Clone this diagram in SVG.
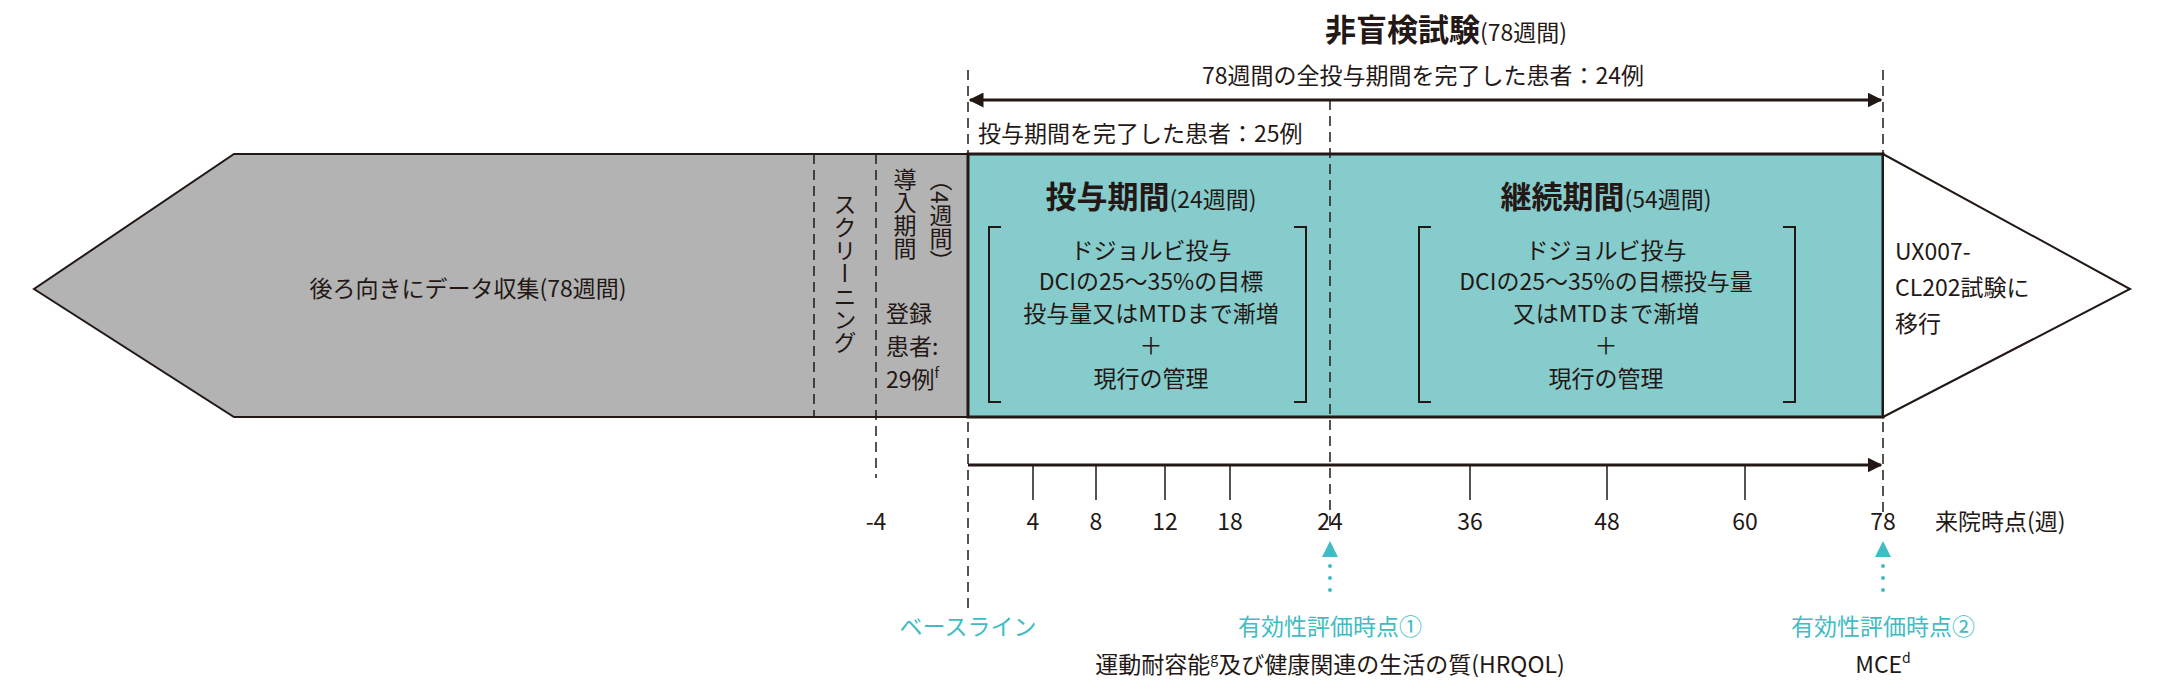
<svg xmlns="http://www.w3.org/2000/svg" width="2160" height="700" viewBox="0 0 2160 700">
<style>
text{font-family:"Noto Sans CJK JP","Noto Sans",sans-serif;fill:#231815}
.m{font-size:23px}
.c{text-anchor:middle}
.b{font-weight:bold;font-size:31px}
.cy{fill:#3fbcc4;font-size:23px}
.d{stroke:#231815;stroke-width:1.5;stroke-dasharray:10 6;fill:none}
.k{stroke:#231815;stroke-width:1.5;fill:none}
.br{stroke:#231815;stroke-width:2;fill:none}
</style>
<defs>
<marker id="ah" viewBox="0 0 10 10" refX="9" refY="5" markerWidth="5" markerHeight="5" orient="auto-start-reverse"><path d="M0,0L10,5L0,10z" fill="#231815"/></marker>
</defs>
<g id="title">
<text x="1446" y="41" class="c"><tspan class="b">非盲検試験</tspan><tspan font-size="23">(78週間)</tspan></text>
<text x="1423" y="84" class="m c">78週間の全投与期間を完了した患者：24例</text>
<text x="978" y="142" class="m">投与期間を完了した患者：25例</text>
</g>
<g id="retro">
<polygon points="968,154 234,154 34,289 234,417 968,417" fill="#b3b3b3" stroke="#231815" stroke-width="2"/>
<text x="468" y="297" class="m c">後ろ向きにデータ収集(78週間)</text>
</g>
<g id="screening">
<text x="845" y="193" class="m" writing-mode="tb">スクリーニング</text>
</g>
<g id="runin">
<text x="905" y="168" class="m" writing-mode="tb">導入期間</text>
<text x="941" y="168" class="m" writing-mode="tb">（4週間）</text>
<text x="886" y="322" class="m">登録</text>
<text x="886" y="355" class="m">患者:</text>
<text x="886" y="388" class="m">29例<tspan font-size="14" dy="-10">f</tspan></text>
</g>
<g id="treat">
<rect x="968" y="154" width="915" height="263" fill="#86cccc" stroke="#231815" stroke-width="3"/>
<text x="1151" y="208" class="c"><tspan class="b" font-size="29">投与期間</tspan><tspan font-size="23">(24週間)</tspan></text>
<path class="br" d="M1001,227H989V402H1001M1294,227H1306V402H1294"/>
<text x="1151" y="259" class="m c">ドジョルビ投与</text>
<text x="1151" y="290" class="m c">DCIの25～35%の目標</text>
<text x="1151" y="322" class="m c">投与量又はMTDまで漸増</text>
<text x="1151" y="354" class="m c">＋</text>
<text x="1151" y="387" class="m c">現行の管理</text>
</g>
<g id="cont">
<text x="1606" y="208" class="c"><tspan class="b" font-size="29">継続期間</tspan><tspan font-size="23">(54週間)</tspan></text>
<path class="br" d="M1431,227H1419V402H1431M1783,227H1795V402H1783"/>
<text x="1606" y="259" class="m c">ドジョルビ投与</text>
<text x="1606" y="290" class="m c">DCIの25～35%の目標投与量</text>
<text x="1606" y="322" class="m c">又はMTDまで漸増</text>
<text x="1606" y="354" class="m c">＋</text>
<text x="1606" y="387" class="m c">現行の管理</text>
</g>
<g id="next">
<polygon points="1883,154 1883,417 2130,289" fill="#fff" stroke="#231815" stroke-width="2"/>
<text x="1895" y="260" class="m">UX007-</text>
<text x="1895" y="296" class="m">CL202試験に</text>
<text x="1895" y="332" class="m">移行</text>
</g>
<g id="connectors">
<line class="d" x1="814" y1="154" x2="814" y2="417"/>
<line class="d" x1="876" y1="154" x2="876" y2="478"/>
<line class="d" x1="968" y1="70" x2="968" y2="612"/>
<line class="d" x1="1330" y1="100" x2="1330" y2="530"/>
<line class="d" x1="1883" y1="70" x2="1883" y2="515"/>
<line x1="970" y1="100" x2="1881" y2="100" stroke="#231815" stroke-width="3" marker-start="url(#ah)" marker-end="url(#ah)"/>
<line x1="968" y1="465" x2="1881" y2="465" stroke="#231815" stroke-width="3" marker-end="url(#ah)"/>
<path class="k" d="M1033,465V500M1096,465V500M1165,465V500M1230,465V500M1470,465V500M1607,465V500M1745,465V500"/>
<polygon points="1330,541 1322,557 1338,557" fill="#3fbcc4"/>
<line x1="1330" y1="566" x2="1330" y2="600" stroke="#3fbcc4" stroke-width="4" stroke-linecap="round" stroke-dasharray="0 12"/>
<polygon points="1883,541 1875,557 1891,557" fill="#3fbcc4"/>
<line x1="1883" y1="566" x2="1883" y2="600" stroke="#3fbcc4" stroke-width="4" stroke-linecap="round" stroke-dasharray="0 12"/>
</g>
<g id="axis">
<text x="876" y="530" class="m c">-4</text>
<text x="1033" y="530" class="m c">4</text>
<text x="1096" y="530" class="m c">8</text>
<text x="1165" y="530" class="m c">12</text>
<text x="1230" y="530" class="m c">18</text>
<text x="1330" y="530" class="m c">24</text>
<text x="1470" y="530" class="m c">36</text>
<text x="1607" y="530" class="m c">48</text>
<text x="1745" y="530" class="m c">60</text>
<text x="1883" y="530" class="m c">78</text>
<text x="1935" y="530" class="m">来院時点(週)</text>
</g>
<g id="labels">
<text x="968" y="635" class="cy c">ベースライン</text>
<text x="1330" y="635" class="cy c">有効性評価時点①</text>
<text x="1883" y="635" class="cy c">有効性評価時点②</text>
<text x="1330" y="673" class="m c">運動耐容能<tspan font-size="14" dy="-10">g</tspan><tspan dy="10">及び健康関連の生活の質(HRQOL)</tspan></text>
<text x="1883" y="673" class="m c">MCE<tspan font-size="14" dy="-10">d</tspan></text>
</g>
</svg>
